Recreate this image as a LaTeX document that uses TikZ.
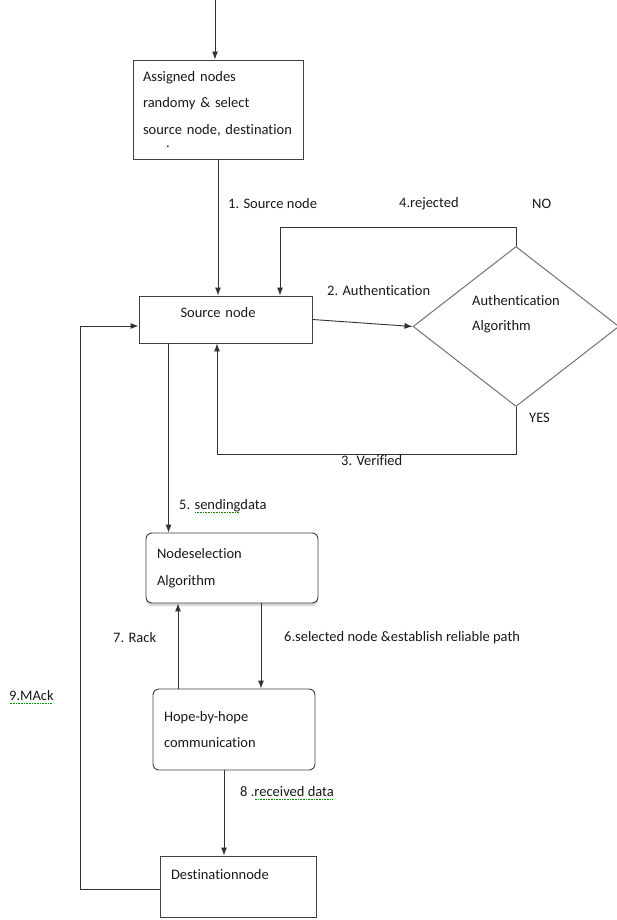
\documentclass[tikz,border=0pt]{standalone}
\usepackage{fontspec}
\setmainfont{Carlito}[Ligatures=NoCommon]
\usepackage{tikz}
\usetikzlibrary{arrows}
\usetikzlibrary{arrows.meta}
\usetikzlibrary{shapes.geometric}
\usetikzlibrary{shadows}

\newcommand{\squig}[1]{\setbox0=\hbox{#1}\rlap{\raisebox{-3.5pt}{\color{green!55!black}\hbox to \wd0{\leaders\hbox to 1.6pt{\hss\rule{0.8pt}{0.8pt}\hss}\hfil}}}\box0}

\begin{document}
\begin{tikzpicture}[
x=1pt, y=-1pt, >={Latex[length=8pt,width=6pt]},
every node/.style={font=\fontsize{14.5}{26.5}\selectfont, text=black!90},
block/.style={rectangle, draw=black!75, line width=0.9pt, inner xsep=11pt, align=left},
rblock/.style={block, rounded corners=6pt},
decision/.style={diamond, draw=black!55, line width=1pt, minimum width=206pt, minimum height=160pt, inner sep=0pt},
lbl/.style={anchor=west, inner sep=0pt},
line/.style={draw=black!80, line width=0.9pt, ->}
]
\useasboundingbox (0,0) rectangle (616,920);

\node[block, minimum width=170pt, minimum height=99pt, text width=150pt, inner xsep=10pt] (n1) at (218,109.5) {Assigned nodes\\randomy \& select\\source node, destination\\[-13.5pt]\hspace*{23pt}.};
\node[block, below of=n1, node distance=210pt, xshift=7.5pt, minimum width=173pt, minimum height=47pt, text width=153pt, inner xsep=10pt, text height=10pt, text depth=14pt] (n2) {\hspace*{31.5pt}Source node};
\node[decision, right of=n2, node distance=290.5pt, yshift=-7pt] (n3) {};
\node[align=left, inner sep=0pt, font=\fontsize{14.5}{25}\selectfont] (n4) at ([yshift=12pt]n3.center) {Authentication\\Algorithm};
\node[rblock, below of=n2, node distance=248.5pt, xshift=6.5pt, minimum width=172pt, minimum height=70pt, text width=150pt, drop shadow={shadow xshift=0pt, shadow yshift=-3pt, fill=black!15, opacity=1}, fill=white] (n5) {Nodeselection\\Algorithm};
\node[rblock, below of=n5, node distance=161.5pt, xshift=2pt, minimum width=162pt, minimum height=81pt, text width=140pt] (n6) {Hope-by-hope\\communication};
\node[block, below of=n6, node distance=157pt, xshift=4pt, minimum width=156pt, minimum height=61pt, text width=134pt, text height=10pt, text depth=24pt] (n7) {Destinationnode};

\node[lbl] (n8) at (228,204) {1. Source node};
\node[lbl] (n9) at (399,204) {4.rejected};
\node[lbl] (n10) at (532,204) {NO};
\node[lbl] (n11) at (327,291) {2. Authentication};
\node[lbl] (n12) at (529,418) {YES};
\node[lbl] (n13) at (341,461) {3. Verified};
\node[lbl] (n14) at (179,506) {5. \squig{sending}data};
\node[lbl] (n15) at (113,638) {7. Rack};
\node[lbl] (n16) at (284,638) {6.selected node \&establish reliable path};
\node[lbl] (n17) at (9,697) {\squig{9.MAck}};
\node[lbl] (n18) at (240,793) {8 .\squig{received data}};

\coordinate (c1) at (215,0);

\draw[line] (c1) -- (c1 |- n1.north);
\draw[line] (n1.south) -- (n1.south |- n2.north);
\draw[line] (n2.east) -- (n3.west);
\draw[line] (n3.north) -- ++(0,-19) -| ([xshift=54.5pt]n2.north);
\draw[line] (n3.south) -- ++(0,47) -| ([xshift=-8.5pt]n2.south);
\draw[line] ([xshift=-57pt]n2.south) -- ([xshift=-57pt]n2.south |- n5.north);
\draw[line] ([xshift=29pt]n5.south) -- ([xshift=29pt]n5.south |- n6.north);
\draw[line] ([xshift=-56pt]n6.north) -- ([xshift=-56pt]n6.north |- n5.south);
\draw[line] ([xshift=-10pt]n6.south) -- ([xshift=-10pt]n6.south |- n7.north);
\draw[line] ([yshift=-2.5pt]n7.west) -- ++(-79,0) |- ([yshift=-6.5pt]n2.west);
\end{tikzpicture}
\end{document}
